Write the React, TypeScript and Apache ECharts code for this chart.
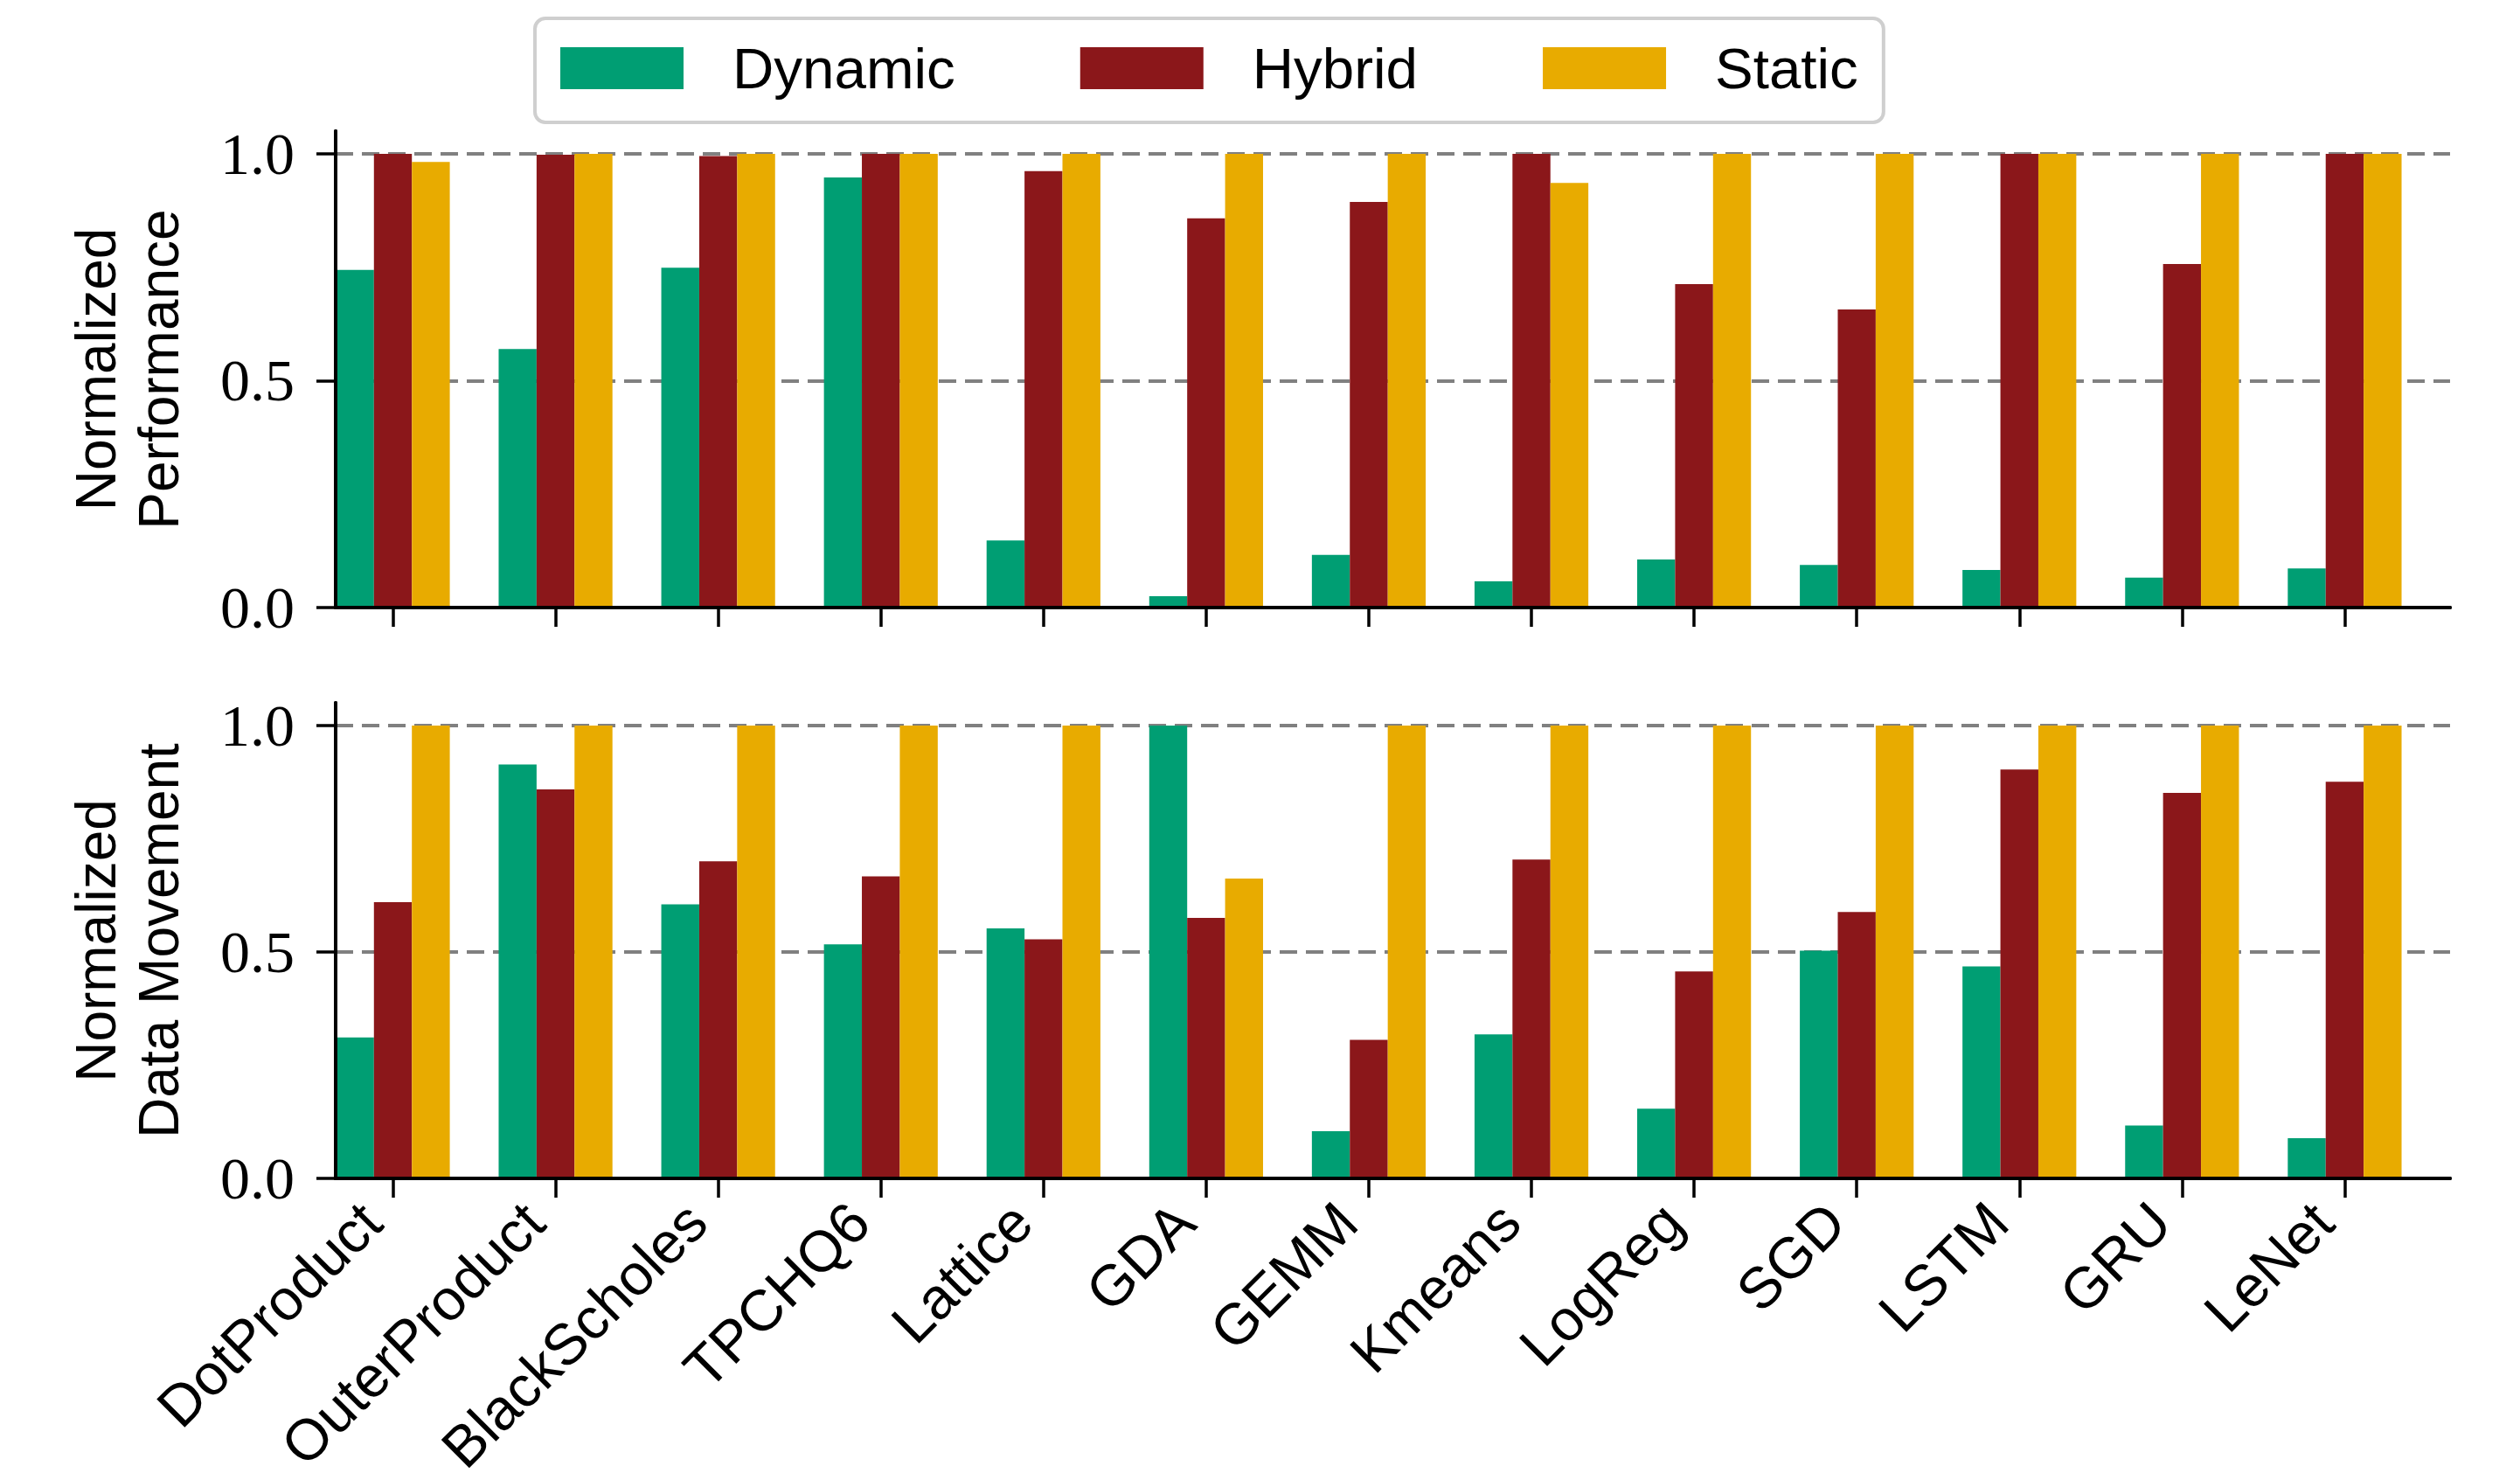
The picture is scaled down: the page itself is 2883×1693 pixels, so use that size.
import React, { useEffect, useRef } from "react";
import * as echarts from "echarts";

const categories = [
  "DotProduct", "OuterProduct", "BlackScholes", "TPCHQ6", "Lattice", "GDA", "GEMM",
  "Kmeans", "LogReg", "SGD", "LSTM", "GRU", "LeNet",
];
const seriesNames = ["Dynamic", "Hybrid", "Static"];

const perfDynamic = [0.744, 0.570, 0.749, 0.948, 0.148, 0.025, 0.116, 0.058, 0.106, 0.094, 0.083, 0.066, 0.086];
const perfHybrid = [1.0, 0.998, 0.995, 1.0, 0.962, 0.858, 0.894, 1.0, 0.713, 0.657, 1.0, 0.757, 1.0];
const perfStatic = [0.982, 1.0, 1.0, 1.0, 1.0, 1.0, 1.0, 0.936, 1.0, 1.0, 1.0, 1.0, 1.0];

const dmDynamic = [0.311, 0.914, 0.605, 0.517, 0.552, 1.0, 0.104, 0.318, 0.154, 0.503, 0.468, 0.117, 0.089];
const dmHybrid = [0.610, 0.859, 0.700, 0.667, 0.528, 0.575, 0.306, 0.704, 0.457, 0.588, 0.903, 0.851, 0.876];
const dmStatic = [1.0, 1.0, 1.0, 1.0, 1.0, 0.662, 1.0, 1.0, 1.0, 1.0, 1.0, 1.0, 1.0];

const yTickValues = [0, 0.5, 1.0];
const yMax = 1.05;

const colors = ["#009E73", "#8B171A", "#E8AB00"];
const SANS = "Liberation Sans";
const SERIF = "Liberation Serif";

export default function App() {
  const ref = useRef<HTMLDivElement>(null);

  useEffect(() => {
    if (!ref.current) return;
    const chart = echarts.init(ref.current, null, { renderer: "svg" });

    const panels = [
      { top: 150, height: 545, name: "Normalized\nPerformance", data: [perfDynamic, perfHybrid, perfStatic], labels: false },
      { top: 804, height: 544, name: "Normalized\nData Movement", data: [dmDynamic, dmHybrid, dmStatic], labels: true },
    ];

    const frameLeft = 384;
    const frameWidth = 2419;
    const band = frameWidth / categories.length;
    const barGridLeft = 449.5 - band / 2;

    const grid: any[] = [];
    const xAxis: any[] = [];
    const yAxis: any[] = [];
    const series: any[] = [];

    const axisLineStyle = { color: "#000", width: 4 };

    panels.forEach((p, k) => {
      grid.push({ left: frameLeft, top: p.top, width: frameWidth, height: p.height, outerBoundsMode: "none", containLabel: false });
      grid.push({ left: barGridLeft, top: p.top, width: frameWidth, height: p.height, outerBoundsMode: "none", containLabel: false });

      // frame x axes (bottom & top spines)
      ["bottom", "top"].forEach((pos) => {
        xAxis.push({
          gridIndex: 2 * k,
          type: "value",
          min: 0,
          max: 1,
          position: pos,
          axisLine: { show: true, lineStyle: axisLineStyle },
          axisTick: { show: false },
          axisLabel: { show: false },
          splitLine: { show: false },
          z: 10,
        });
      });
      // category axis for bars
      xAxis.push({
        gridIndex: 2 * k + 1,
        type: "category",
        data: categories,
        position: "bottom",
        axisLine: { show: false },
        axisTick: { show: true, alignWithLabel: true, length: 22, lineStyle: { color: "#000", width: 3.5 } },
        axisLabel: p.labels
          ? {
              show: true,
              interval: 0,
              rotate: 45,
              align: "right",
              verticalAlign: "middle",
              margin: 14,
              padding: [0, 35, 0, 0],
              fontFamily: SANS,
              fontSize: 66,
              lineHeight: 60,
              color: "#000",
              hideOverlap: false,
            }
          : { show: false },
        splitLine: { show: false },
      });

      // left spine with ticks/labels
      yAxis.push({
        gridIndex: 2 * k,
        type: "value",
        min: 0,
        max: yMax,
        interval: 0.5,
        position: "left",
        axisLine: { show: true, lineStyle: axisLineStyle },
        axisTick: { show: true, customValues: yTickValues, length: 22, lineStyle: { color: "#000", width: 3.5 } },
        axisLabel: {
          show: true,
          customValues: yTickValues,
          formatter: (v: number) => v.toFixed(1),
          fontFamily: SERIF,
          fontSize: 68,
          color: "#000",
          margin: 47,
        },
        splitLine: { show: false },
        name: p.name,
        nameLocation: "middle",
        nameGap: 166,
        nameMoveOverlap: false,
        nameTextStyle: { fontFamily: SANS, fontSize: 64, lineHeight: 72, color: "#000" },
        z: 10,
      });
      // right spine with dashed gridlines
      yAxis.push({
        gridIndex: 2 * k,
        type: "value",
        min: 0,
        max: yMax,
        interval: 0.5,
        position: "right",
        axisLine: { show: true, lineStyle: axisLineStyle },
        axisTick: { show: false },
        axisLabel: { show: false },
        splitLine: {
          show: true,
          showMinLine: false,
          showMaxLine: false,
          lineStyle: { color: "#808080", width: 4, type: [20, 10] },
        },
        z: 0,
      });
      // hidden value axis for bars
      yAxis.push({
        gridIndex: 2 * k + 1,
        type: "value",
        min: 0,
        max: yMax,
        show: false,
      });

      p.data.forEach((vals, j) => {
        series.push({
          type: "bar",
          name: seriesNames[j],
          xAxisIndex: 3 * k + 2,
          yAxisIndex: 3 * k + 2,
          data: vals,
          barWidth: 43.4,
          barGap: "0%",
          itemStyle: { color: colors[j] },
          z: 2,
        });
      });
    });

    chart.setOption({
      animation: false,
      backgroundColor: "#fff",
      legend: {
        data: seriesNames,
        left: 612,
        top: 21,
        orient: "horizontal",
        icon: "rect",
        itemWidth: 141,
        itemHeight: 48,
        itemGap: 143,
        padding: [24, 29, 29, 29],
        borderColor: "#cfcfcf",
        borderWidth: 4,
        borderRadius: 12,
        textStyle: {
          fontFamily: SANS,
          fontSize: 65.5,
          lineHeight: 48,
          color: "#000",
          padding: [0, 0, 0, 51],
        },
      },
      grid,
      xAxis,
      yAxis,
      series,
    });

    return () => chart.dispose();
  }, []);

  return (
    <div
      ref={ref}
      style={{ position: "absolute", left: 0, top: 0, width: 2883, height: 1693, background: "#fff" }}
    />
  );
}
